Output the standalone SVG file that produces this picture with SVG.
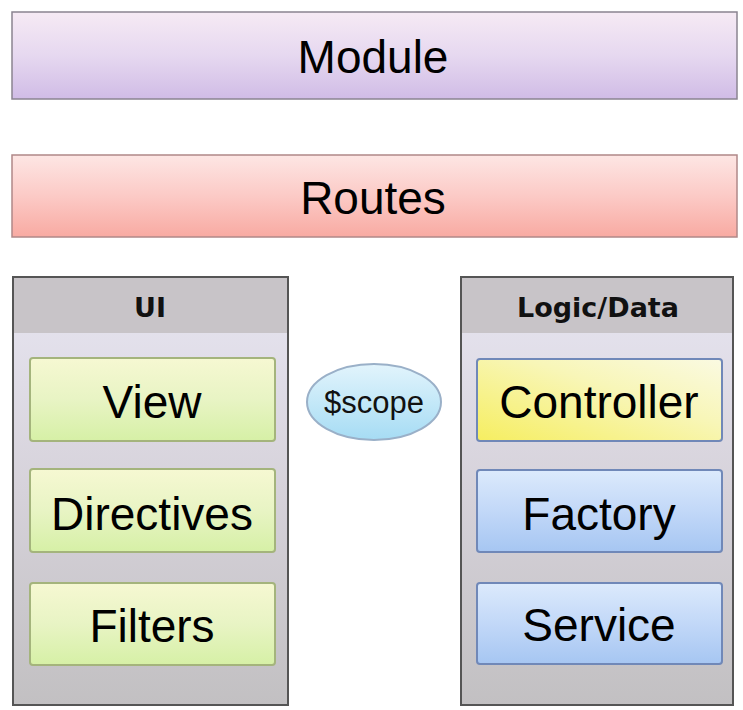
<svg xmlns="http://www.w3.org/2000/svg" width="743" height="710" viewBox="0 0 743 710">
<defs>
<linearGradient id="gMod" x1="0" y1="0" x2="0" y2="1"><stop offset="0" stop-color="#f6eaf4"/><stop offset="0.5" stop-color="#e6d8f0"/><stop offset="1" stop-color="#d0bce6"/></linearGradient>
<linearGradient id="gRou" x1="0" y1="0" x2="0" y2="1"><stop offset="0" stop-color="#fde6e4"/><stop offset="0.5" stop-color="#fccac6"/><stop offset="1" stop-color="#f8aaa2"/></linearGradient>
<linearGradient id="gPanel" x1="0" y1="0" x2="0" y2="1"><stop offset="0" stop-color="#e8e6f2"/><stop offset="0.5" stop-color="#d6d2da"/><stop offset="1" stop-color="#c2c0c2"/></linearGradient>
<linearGradient id="gGreen" x1="0" y1="0" x2="0" y2="1"><stop offset="0" stop-color="#f6f8d2"/><stop offset="0.5" stop-color="#e8f4c4"/><stop offset="1" stop-color="#d6f0a6"/></linearGradient>
<linearGradient id="gBlue" x1="0" y1="0" x2="0" y2="1"><stop offset="0" stop-color="#dceafc"/><stop offset="0.5" stop-color="#c2d8f8"/><stop offset="1" stop-color="#a6c6f2"/></linearGradient>
<linearGradient id="gYel" x1="0" y1="1" x2="1" y2="0"><stop offset="0" stop-color="#f6ee60"/><stop offset="0.6" stop-color="#f8f6b8"/><stop offset="1" stop-color="#fafae2"/></linearGradient>
<linearGradient id="gScope" x1="0" y1="0" x2="0" y2="1"><stop offset="0" stop-color="#e2f4fc"/><stop offset="1" stop-color="#a6dcf4"/></linearGradient>
<style>
.lbl{font-family:"Liberation Sans",Arial,sans-serif;font-size:46px;fill:#000;text-anchor:middle}
.hdr{font-family:"DejaVu Sans",Verdana,sans-serif;font-weight:bold;font-size:27px;fill:#111;text-anchor:middle}
.bar{stroke:#8a8490;stroke-width:1.5}
.grn{fill:url(#gGreen);stroke:#a4b47c;stroke-width:2}
.blu{fill:url(#gBlue);stroke:#7088b8;stroke-width:2}
.panel{fill:url(#gPanel);stroke:#555;stroke-width:2}
.phead{fill:#c8c4c8}
</style>
</defs>
<rect width="743" height="710" fill="#ffffff"/>
<g id="module">
<rect x="12" y="12" width="725" height="87" fill="url(#gMod)" class="bar"/>
<text x="373" y="73" class="lbl">Module</text>
</g>
<g id="routes">
<rect x="12" y="155" width="725" height="82" fill="url(#gRou)" stroke="#b08888" stroke-width="1.5"/>
<text x="373" y="214" class="lbl">Routes</text>
</g>
<g id="ui">
<rect x="13" y="277" width="275" height="428" class="panel"/>
<rect x="14" y="278" width="273" height="55" class="phead"/>
<text x="150" y="317" class="hdr">UI</text>
</g>
<g id="view">
<rect x="30" y="358" width="245" height="83" rx="3" class="grn"/>
<text x="152" y="418" class="lbl">View</text>
</g>
<g id="directives">
<rect x="30" y="469" width="245" height="83" rx="3" class="grn"/>
<text x="152" y="530" class="lbl">Directives</text>
</g>
<g id="filters">
<rect x="30" y="583" width="245" height="82" rx="3" class="grn"/>
<text x="152" y="642" class="lbl">Filters</text>
</g>
<g id="logic">
<rect x="461" y="277" width="272" height="428" class="panel"/>
<rect x="462" y="278" width="270" height="55" class="phead"/>
<text x="598" y="317" class="hdr">Logic/Data</text>
</g>
<g id="controller">
<rect x="477" y="359" width="245" height="82" rx="3" fill="url(#gYel)" stroke="#7088b8" stroke-width="2"/>
<text x="599" y="418" class="lbl">Controller</text>
</g>
<g id="factory">
<rect x="477" y="470" width="245" height="82" rx="3" class="blu"/>
<text x="599" y="530" class="lbl">Factory</text>
</g>
<g id="service">
<rect x="477" y="583" width="245" height="81" rx="3" class="blu"/>
<text x="599" y="641" class="lbl">Service</text>
</g>
<g id="scope">
<ellipse cx="374" cy="402" rx="67" ry="38" fill="url(#gScope)" stroke="#9ab0c8" stroke-width="2"/>
<text x="374" y="413" font-family="Liberation Sans, Arial, sans-serif" font-size="31" text-anchor="middle" fill="#111">$scope</text>
</g>
<g id="connectors"></g>
</svg>
